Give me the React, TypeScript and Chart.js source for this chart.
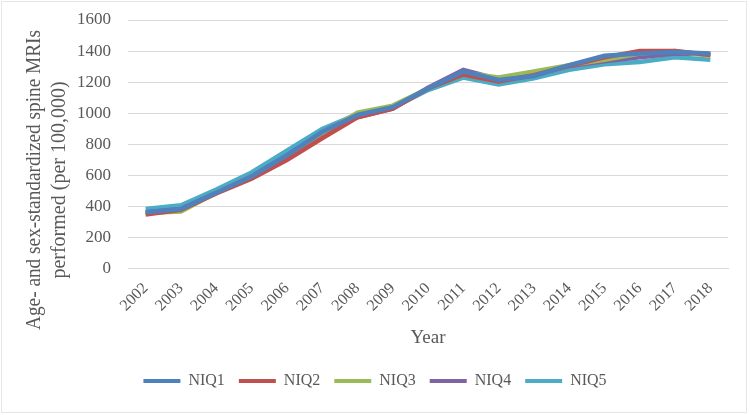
import { useEffect, useRef } from "react";
import { Chart, registerables } from "chart.js";

Chart.register(...registerables);

// values (per 100,000)
const years = ["2002", "2003", "2004", "2005", "2006", "2007", "2008", "2009", "2010", "2011", "2012", "2013", "2014", "2015", "2016", "2017", "2018"];
const niq1 = [365, 385, 490, 595, 730, 880, 990, 1040, 1160, 1270, 1215, 1240, 1310, 1370, 1385, 1395, 1385];
const niq2 = [350, 380, 485, 580, 700, 840, 975, 1030, 1160, 1250, 1205, 1245, 1305, 1360, 1400, 1400, 1375];
const niq3 = [360, 370, 490, 595, 720, 870, 1005, 1050, 1160, 1260, 1230, 1270, 1310, 1345, 1385, 1400, 1370];
const niq4 = [365, 385, 490, 595, 730, 875, 975, 1030, 1165, 1280, 1220, 1250, 1305, 1335, 1360, 1385, 1380];
const niq5 = [385, 410, 510, 620, 760, 900, 995, 1035, 1150, 1230, 1185, 1225, 1280, 1315, 1330, 1360, 1345];

const seriesNames = ["NIQ1", "NIQ2", "NIQ3", "NIQ4", "NIQ5"];
const seriesColors = ["#4F81BD", "#C0504D", "#9BBB59", "#8064A2", "#4BACC6"];

const FONT = "'Liberation Serif', 'Times New Roman', serif";
const TEXT = "#595959";
const GRID = "#D9D9D9";

// the y title in the original sits a bit lower than the plot's middle
const shiftTitle = {
  id: "shiftTitle",
  afterLayout(chart: any) {
    const block = chart.titleBlock;
    if (block) {
      block.top = 30;
      block.bottom = 330;
    }
  },
};

const LineChart = () => {
  const canvasRef = useRef<HTMLCanvasElement>(null);

  useEffect(() => {
    if (!canvasRef.current) return;
    const series = [niq1, niq2, niq3, niq4, niq5];

    const chart = new Chart(canvasRef.current, {
      type: "line",
      data: {
        labels: years,
        datasets: series.map((values, i) => ({
          label: seriesNames[i],
          data: values,
          borderColor: seriesColors[i],
          backgroundColor: seriesColors[i],
          borderWidth: 4.5,
          pointRadius: 0,
          tension: 0,
          fill: false,
        })),
      },
      options: {
        animation: false,
        responsive: true,
        maintainAspectRatio: false,
        layout: { padding: { top: 20, right: 22, left: 22, bottom: 16 } },
        plugins: {
          tooltip: { enabled: false },
          title: {
            display: true,
            position: "left",
            fullSize: false,
            text: ["Age- and sex-standardized spine MRIs", "performed (per 100,000)"],
            color: TEXT,
            font: { family: FONT, size: 20, weight: "normal", lineHeight: 1.25 },
            padding: { top: 0, bottom: 0 },
          },
          legend: {
            display: true,
            position: "bottom",
            labels: {
              boxWidth: 37,
              boxHeight: 4,
              padding: 14,
              color: TEXT,
              font: { family: FONT, size: 16 },
              // plain coloured strokes, no border round the sample
              generateLabels: (c: Chart) =>
                Chart.defaults.plugins.legend.labels.generateLabels(c).map((item) => ({
                  ...item,
                  lineWidth: 0,
                  strokeStyle: "rgba(0,0,0,0)",
                })),
            },
          },
        },
        scales: {
          x: {
            offset: true,
            grid: { display: false },
            border: { display: true, color: GRID, width: 1 },
            ticks: {
              color: TEXT,
              font: { family: FONT, size: 16 },
              minRotation: 45,
              maxRotation: 45,
              padding: 2,
            },
            title: {
              display: true,
              text: "Year",
              color: TEXT,
              font: { family: FONT, size: 19 },
              padding: { top: 9, bottom: 10 },
            },
          },
          y: {
            min: 0,
            max: 1600,
            afterFit: (scale: any) => {
              scale.width = 56;
              scale.paddingTop = 0;
            },
            ticks: {
              stepSize: 200,
              color: TEXT,
              font: { family: FONT, size: 17 },
              padding: 17,
              callback: (value: string | number) => String(value),
            },
            grid: { color: GRID, drawTicks: false },
            border: { display: false },
          },
        },
      },
      plugins: [shiftTitle],
    });

    return () => {
      chart.destroy();
    };
  }, []);

  return (
    <div style={{ position: "relative", width: "750px", height: "415px" }}>
      <canvas ref={canvasRef}></canvas>
    </div>
  );
};

export default function App() {
  return (
    <div
      style={{
        position: "fixed",
        left: 0,
        top: 0,
        width: "750px",
        height: "415px",
        background: "#ffffff",
      }}
    >
      <div
        style={{
          position: "absolute",
          left: 1,
          top: 1,
          width: "746px",
          height: "412px",
          border: "1px solid #E6E6E6",
          boxSizing: "border-box",
          pointerEvents: "none",
        }}
      />
      <LineChart />
    </div>
  );
}
